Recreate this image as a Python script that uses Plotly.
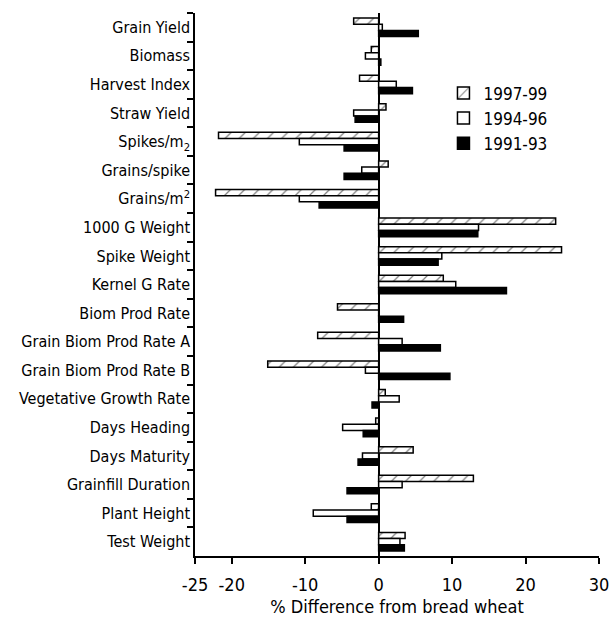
import plotly.graph_objects as go

categories = [
    "Grain Yield", "Biomass", "Harvest Index", "Straw Yield",
    "Spikes/m<sub>2</sub>", "Grains/spike", "Grains/m<sup>2</sup>",
    "1000 G Weight", "Spike Weight", "Kernel G Rate", "Biom Prod Rate",
    "Grain Biom Prod Rate A", "Grain Biom Prod Rate B",
    "Vegetative Growth Rate", "Days Heading", "Days Maturity",
    "Grainfill Duration", "Plant Height", "Test Weight",
]

v_1997_99 = [-3.4, -1.0, -2.6, 1.0, -21.8, 1.3, -22.2, 24.1, 24.9, 8.8, -5.6,
             -8.3, -15.1, 0.9, -0.4, 4.7, 12.9, -1.0, 3.6]
v_1994_96 = [0.5, -1.8, 2.4, -3.4, -10.8, -2.3, -10.8, 13.6, 8.6, 10.5, 0.0,
             3.2, -1.8, 2.8, -4.9, -2.2, 3.2, -8.9, 2.9]
v_1991_93 = [5.4, 0.3, 4.6, -3.2, -4.7, -4.7, -8.1, 13.5, 8.1, 17.4, 3.4,
             8.4, 9.7, -0.9, -2.1, -2.8, -4.3, -4.3, 3.5]

x_ticks = [-25, -20, -10, 0, 10, 20, 30]

FONT = "Liberation Sans Narrow, DejaVu Sans Condensed, Roboto Condensed, Arial Narrow, sans-serif"

fig = go.Figure()
fig.add_trace(go.Bar(
    y=categories, x=v_1997_99, orientation="h", name="1997-99",
    marker=dict(color="white", line=dict(color="black", width=1.5),
                pattern=dict(shape="/", fgcolor="black", bgcolor="white",
                             size=10, solidity=0.12)),
))
fig.add_trace(go.Bar(
    y=categories, x=v_1994_96, orientation="h", name="1994-96",
    marker=dict(color="white", line=dict(color="black", width=1.5)),
))
fig.add_trace(go.Bar(
    y=categories, x=v_1991_93, orientation="h", name="1991-93",
    marker=dict(color="black", line=dict(color="black", width=1.5)),
))

fig.update_layout(
    width=614, height=624,
    margin=dict(l=195, r=15, t=13, b=68, autoexpand=False),
    paper_bgcolor="white", plot_bgcolor="white",
    barmode="group", bargap=0.35, bargroupgap=0,
    font=dict(family=FONT, size=18, color="black"),
    showlegend=True,
    legend=dict(x=0.615, y=0.885, xanchor="left", yanchor="top",
                bgcolor="rgba(0,0,0,0)", font=dict(family=FONT, size=17),
                tracegroupgap=2, itemwidth=30),
)
fig.update_xaxes(
    range=[-25, 30], tickvals=x_ticks, ticktext=[str(t) for t in x_ticks],
    showline=True, linecolor="black", linewidth=1.5,
    ticks="outside", ticklen=6, tickwidth=1.5, tickcolor="black",
    ticklabelstandoff=6, automargin=False,
    showgrid=False, zeroline=True, zerolinecolor="black", zerolinewidth=2,
    title=dict(text="% Difference from bread wheat", standoff=6,
               font=dict(family=FONT, size=18)),
    tickfont=dict(family=FONT, size=18),
)
fig.update_yaxes(
    autorange="reversed", showline=True, linecolor="black", linewidth=1.5,
    ticks="outside", ticklen=6, tickwidth=1.5, tickcolor="black",
    tickson="boundaries", showgrid=False, automargin=False,
    tickfont=dict(family=FONT, size=16),
)

fig.write_html("out.html")
